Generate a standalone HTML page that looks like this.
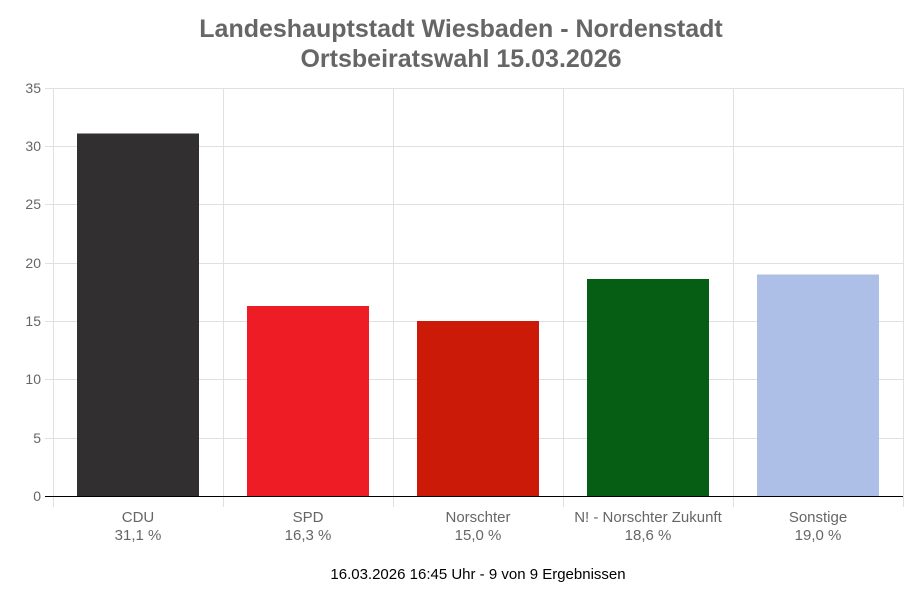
<!DOCTYPE html>
<html><head><meta charset="utf-8"><style>
body{margin:0;background:#fff;}
svg{display:block;font-family:"Liberation Sans",Arial,sans-serif;}
</style></head><body>
<svg width="923" height="592" viewBox="0 0 923 592">
<text x="461" y="37" text-anchor="middle" font-size="25" font-weight="bold" fill="#666">Landeshauptstadt Wiesbaden - Nordenstadt</text>
<text x="461" y="67" text-anchor="middle" font-size="25" font-weight="bold" fill="#666">Ortsbeiratswahl 15.03.2026</text>
<g stroke="#e0e0e0" stroke-width="1">
<line x1="53" y1="88.5" x2="903" y2="88.5"/>
<line x1="53" y1="146.5" x2="903" y2="146.5"/>
<line x1="53" y1="204.5" x2="903" y2="204.5"/>
<line x1="53" y1="263.5" x2="903" y2="263.5"/>
<line x1="53" y1="321.5" x2="903" y2="321.5"/>
<line x1="53" y1="379.5" x2="903" y2="379.5"/>
<line x1="53" y1="438.5" x2="903" y2="438.5"/>
<line x1="53.5" y1="88" x2="53.5" y2="507"/>
<line x1="223.5" y1="88" x2="223.5" y2="507"/>
<line x1="393.5" y1="88" x2="393.5" y2="507"/>
<line x1="563.5" y1="88" x2="563.5" y2="507"/>
<line x1="733.5" y1="88" x2="733.5" y2="507"/>
<line x1="903.5" y1="88" x2="903.5" y2="507"/>
<line x1="45" y1="88.5" x2="53" y2="88.5"/>
<line x1="45" y1="146.5" x2="53" y2="146.5"/>
<line x1="45" y1="204.5" x2="53" y2="204.5"/>
<line x1="45" y1="263.5" x2="53" y2="263.5"/>
<line x1="45" y1="321.5" x2="53" y2="321.5"/>
<line x1="45" y1="379.5" x2="53" y2="379.5"/>
<line x1="45" y1="438.5" x2="53" y2="438.5"/>
</g>
<rect x="77" y="133.5" width="122" height="362.5" fill="#312f30"/>
<rect x="247" y="306" width="122" height="190" fill="#ee1c25"/>
<rect x="417" y="321" width="122" height="175" fill="#cc1a08"/>
<rect x="587" y="279" width="122" height="217" fill="#055e14"/>
<rect x="757" y="274.5" width="122" height="221.5" fill="#adbfe6"/>
<line x1="45" y1="496.5" x2="903" y2="496.5" stroke="#000" stroke-width="1"/>
<g font-size="14" fill="#666" text-anchor="end">
<text x="41" y="93">35</text><text x="41" y="151">30</text><text x="41" y="209">25</text>
<text x="41" y="268">20</text><text x="41" y="326">15</text><text x="41" y="384">10</text>
<text x="41" y="443">5</text><text x="41" y="501">0</text>
</g>
<g font-size="15" fill="#666" text-anchor="middle">
<text x="138" y="522">CDU</text><text x="138" y="540">31,1 %</text>
<text x="308" y="522">SPD</text><text x="308" y="540">16,3 %</text>
<text x="478" y="522">Norschter</text><text x="478" y="540">15,0 %</text>
<text x="648" y="522">N! - Norschter Zukunft</text><text x="648" y="540">18,6 %</text>
<text x="818" y="522">Sonstige</text><text x="818" y="540">19,0 %</text>
</g>
<text x="478" y="579" text-anchor="middle" font-size="15" fill="#000">16.03.2026 16:45 Uhr - 9 von 9 Ergebnissen</text>
</svg>
</body></html>
